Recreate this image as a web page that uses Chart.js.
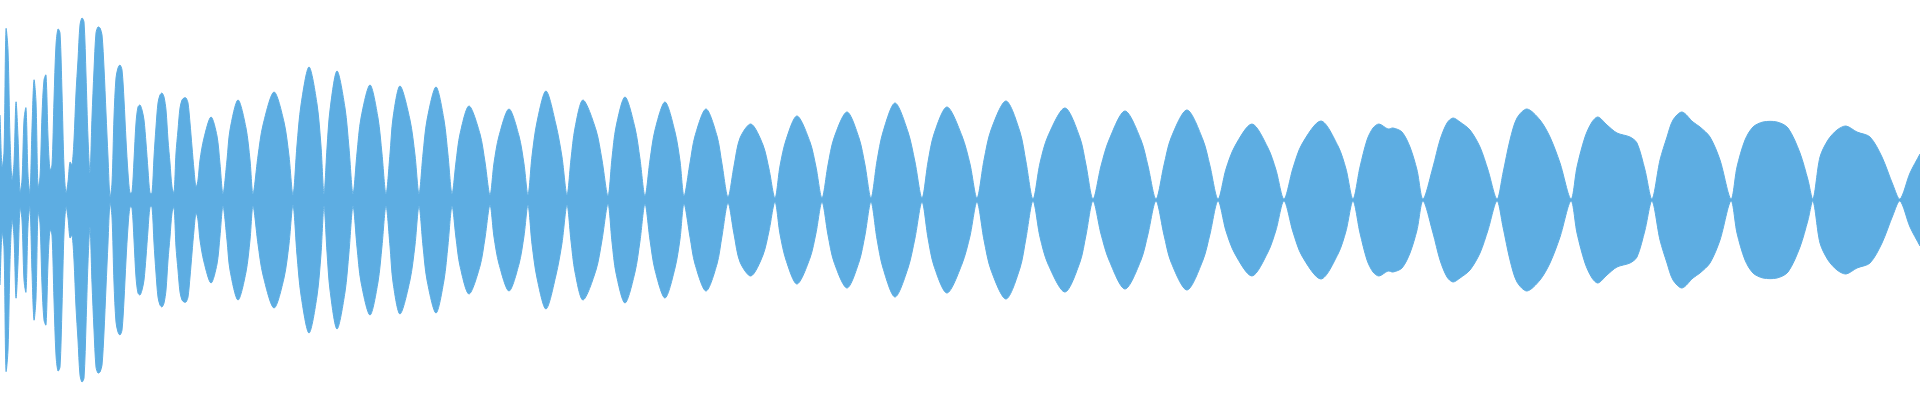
<!DOCTYPE html>
<html>
<head>
<meta charset="utf-8">
<script src="https://cdn.jsdelivr.net/npm/chart.js@4/dist/chart.umd.min.js"></script>
<style>
  html, body { margin: 0; padding: 0; background: #fff; }
  #wrap { width: 1920px; height: 400px; position: relative; }
</style>
</head>
<body>
<div id="wrap"><canvas id="waveChart"></canvas></div>
<script>
// onset: one envelope sample per ms, starting at 0 ms
const onsetAmp = [
    85, 33, 48, 171, 150, 62, 20, 37, 98, 63,
    8, 20, 80, 92, 25, 7, 72, 120, 98, 13,
    23, 85, 120, 125, 63, 30, 35, 100, 155, 171,
    167, 107, 33, 7, 18, 38, 35, 60, 107, 140,
    175, 182, 178, 125, 62, 27, 83, 130, 167, 173,
    172, 165, 132, 87, 43, 3, 17, 83, 122, 132,
    135, 130, 100, 60, 27, 7, 8, 40, 77, 93,
    95, 90, 80, 57, 30, 7, 7, 43, 73, 97,
    105, 107, 103, 90, 60, 37, 13, 7, 47, 70,
    92, 100, 102, 102, 97, 77, 53, 30, 13, 20
];

// rest of the envelope: time (ms) and amplitude, one row per swell
const bodyTimes = [
    100, 102, 105.5, 108.5, 110, 111.5,
    113.5, 115, 119, 123, 125, 126.5,
    129, 131.5, 137, 142, 144.5, 146.5,
    148.5, 150.5, 154.5, 158.5, 160.5, 162,
    163.5, 165, 168.5, 172.5, 174.5, 176.5,
    178.5, 180.5, 185, 189, 191, 193,
    195, 196.5, 200, 205, 207.5, 209.5,
    211.5, 213.5, 218, 222, 224, 226,
    228, 230, 234.5, 240, 242.5, 245,
    247, 249.5, 254.5, 259.5, 262, 264,
    266, 268.5, 273, 278, 281, 283.5,
    285.5, 287.5, 291.5, 298, 301, 304,
    306, 308, 312.5, 317.5, 320, 322.5,
    325, 327.5, 332.5, 337.5, 340, 342,
    345, 347.5, 353, 358.5, 361, 364,
    367, 370, 375.5, 381.5, 384.5, 387.5,
    390, 393, 398.5, 405, 408, 411,
    414, 417, 423.5, 429.5, 432.5, 435.5,
    438.5, 441.5, 447.5, 454, 457.5, 461,
    464, 467, 473.5, 481, 485, 488.5,
    492, 495.5, 503, 510, 513, 516.5,
    520, 524, 532.5, 540, 543, 546.5,
    550.5, 554.5, 562.5, 570.5, 574, 578,
    582, 585.5, 593.5, 601.5, 605, 609,
    613, 617.5, 626, 634, 638, 642,
    646.5, 651, 660.5, 669, 673, 676.5,
    680, 683.5, 686.5, 689.5, 694, 696.5, 701, 705, 708.5, 711.5,
    716.5, 720, 723.5, 726.5, 730, 735, 740, 744, 748.5,
    751.5, 755, 758.5, 763.5, 770, 775, 780, 785.5,
    788.5, 792.5, 796, 799, 803.5, 808.5, 815, 818.5, 822.5, 826,
    830, 833.5, 836.5, 841, 846.5, 850, 855, 860, 865.5,
    868.5, 872.5, 876.5, 881.5, 888.5, 894, 900, 904, 906.5,
    910, 914, 918.5, 923, 928.5, 935, 941, 946.5, 950,
    955, 960
];
const bodyAmp = [
    40, 62, 83, 64, 36, 6,
    40, 70, 100, 72, 40, 6,
    44, 75, 108, 78, 44, 5,
    55, 95, 133, 96, 54, 6,
    52, 90, 129, 92, 52, 6,
    47, 82, 115, 82, 46, 6,
    46, 82, 114, 80, 45, 6,
    46, 80, 113, 80, 45, 6,
    38, 66, 94, 66, 38, 5,
    37, 64, 91, 64, 36, 5,
    44, 78, 109, 75, 43, 5,
    41, 72, 100, 70, 40, 4,
    42, 73, 103, 72, 41, 4,
    40, 70, 98, 68, 39, 4,
    37, 64, 91, 64, 36, 3,
    34, 62, 76, 55, 31, 2,
    34, 60, 84, 58, 33, 2,
    35, 62, 88, 62, 35, 2,
    39, 68, 97, 68, 38, 2,
    38, 66, 93, 64, 36, 2,
    40, 70, 99, 68, 38, 1,
    37, 64, 92, 62, 35, 1,
    34, 60, 89, 60, 34, 1,
    35, 62, 90, 60, 34, 1,
    31, 54, 76, 52, 30, 1,
    32, 56, 79, 54, 31, 1,
    33, 60, 72, 76, 71, 72, 68, 53, 30, 1,
    33, 60, 77, 82, 78, 70, 53, 30, 1,
    27, 60, 82, 91, 80, 63, 37, 1,
    33, 63, 78, 83, 75, 67, 63, 57, 30, 1,
    40, 63, 80, 88, 78, 73, 63, 40, 1,
    33, 60, 73, 78, 78, 72, 47, 20, 1,
    43, 60, 70, 74, 68, 63, 43, 15, 1,
    27, 46
];

const waveColor = "#5DADE2";

const upper = [];
const lower = [];
onsetAmp.forEach((a, i) => {
    upper.push({ x: i, y: a });
    lower.push({ x: i, y: -a });
});
bodyTimes.forEach((t, i) => {
    upper.push({ x: t, y: bodyAmp[i] });
    lower.push({ x: t, y: -bodyAmp[i] });
});

function envelope(data) {
    return {
        data: data,
        borderColor: waveColor,
        backgroundColor: waveColor,
        borderWidth: 1,
        pointRadius: 0,
        tension: 0.3,
        fill: "origin"
    };
}

new Chart(document.getElementById("waveChart"), {
    type: "line",
    data: { datasets: [envelope(upper), envelope(lower)] },
    options: {
        responsive: true,
        maintainAspectRatio: false,
        animation: false,
        layout: { padding: 0 },
        plugins: {
            legend: { display: false },
            tooltip: { enabled: false }
        },
        scales: {
            x: { type: "linear", min: 0, max: 960, display: false },
            y: { min: -200, max: 200, display: false }
        }
    }
});
</script>
</body>
</html>
